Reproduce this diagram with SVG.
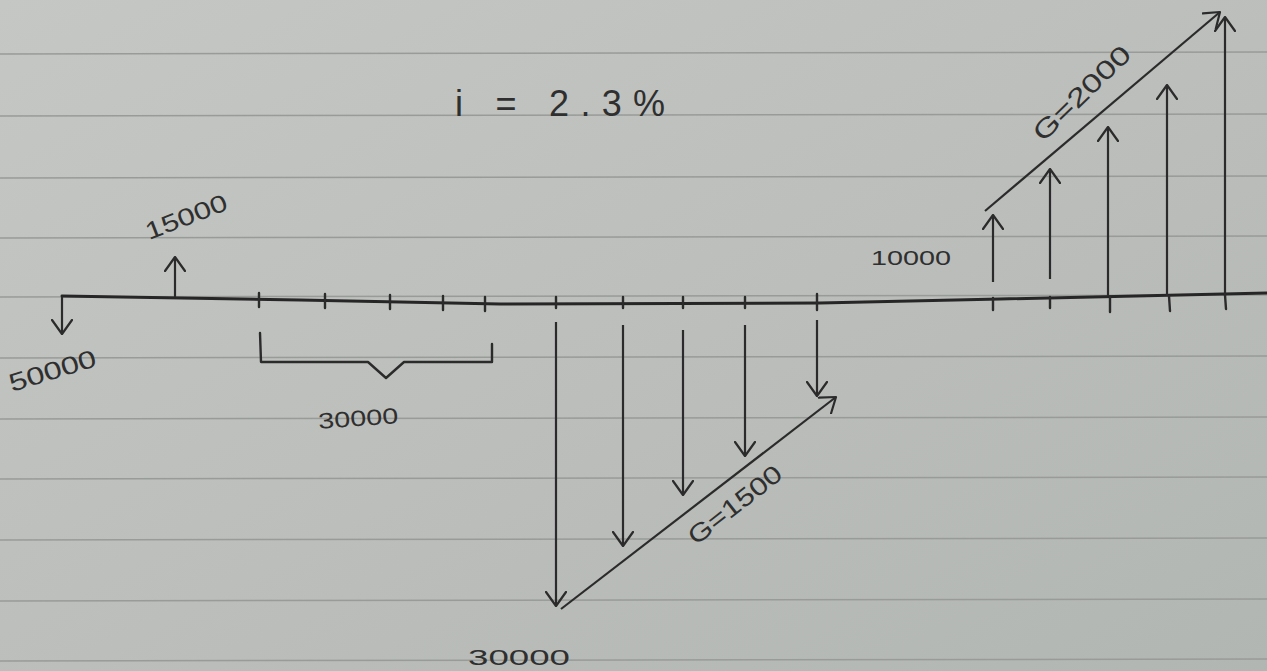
<svg xmlns="http://www.w3.org/2000/svg" width="1267" height="671" viewBox="0 0 1267 671">
<defs>
<marker id="ah" viewBox="0 0 16 22" refX="15" refY="11" markerWidth="16" markerHeight="22" markerUnits="userSpaceOnUse" orient="auto">
<path d="M1,1 L15,11 L1,21" fill="none" stroke="#2b2b2b" stroke-width="2.2" stroke-linecap="round" stroke-linejoin="round"/>
</marker>
<linearGradient id="paper" x1="0" y1="0" x2="1" y2="1">
<stop offset="0" stop-color="#c5c7c4"/>
<stop offset="1" stop-color="#b2b6b2"/>
</linearGradient>
<style>
.rule{stroke:#989b98;stroke-width:1.5;fill:none}
.ink{stroke:#2b2b2b;stroke-width:2.4;fill:none;stroke-linecap:round;stroke-linejoin:round}
.axis{stroke:#262626;stroke-width:3;fill:none;stroke-linecap:round;stroke-linejoin:round}
.arr{stroke:#2b2b2b;stroke-width:2.2;fill:none;marker-end:url(#ah)}
.lbl{font-family:"Liberation Sans",Arial,sans-serif;fill:#2f2f2f}
</style>
</defs>
<rect width="1267" height="671" fill="url(#paper)"/>
<g id="paper-lines">
<line class="rule" x1="0" y1="54" x2="1267" y2="52"/>
<line class="rule" x1="0" y1="116" x2="1267" y2="114"/>
<line class="rule" x1="0" y1="178" x2="1267" y2="176"/>
<line class="rule" x1="0" y1="238" x2="1267" y2="236"/>
<line class="rule" x1="0" y1="297" x2="1267" y2="295"/>
<line class="rule" x1="0" y1="358" x2="1267" y2="356"/>
<line class="rule" x1="0" y1="419" x2="1267" y2="417"/>
<line class="rule" x1="0" y1="479" x2="1267" y2="477"/>
<line class="rule" x1="0" y1="540" x2="1267" y2="538"/>
<line class="rule" x1="0" y1="601" x2="1267" y2="599"/>
<line class="rule" x1="0" y1="661" x2="1267" y2="659"/>
</g>
<g id="interest">
<text class="lbl" x="455" y="116" style="font-size:36px" textLength="210" lengthAdjust="spacing">i = 2.3%</text>
</g>
<g id="timeline">
<polyline class="axis" points="62,296 300,300 500,304 820,303 1000,299 1267,293"/>
<g class="ink">
<line x1="259" y1="293" x2="259" y2="307"/>
<line x1="325" y1="294" x2="325" y2="308"/>
<line x1="390" y1="295" x2="390" y2="309"/>
<line x1="443" y1="296" x2="443" y2="310"/>
<line x1="485" y1="297" x2="485" y2="311"/>
<line x1="556" y1="297" x2="556" y2="308"/>
<line x1="623" y1="297" x2="623" y2="308"/>
<line x1="683" y1="297" x2="683" y2="308"/>
<line x1="745" y1="297" x2="745" y2="308"/>
<line x1="817" y1="294" x2="817" y2="310"/>
<line x1="993" y1="298" x2="993" y2="310"/>
<line x1="1050" y1="297" x2="1050" y2="308"/>
<line x1="1110" y1="297" x2="1110" y2="312"/>
<line x1="1169" y1="296" x2="1170" y2="311"/>
<line x1="1225" y1="295" x2="1226" y2="309"/>
</g>
</g>
<g id="connectors">
<line class="arr" x1="62" y1="297" x2="62" y2="334"/>
<line class="arr" x1="175" y1="297" x2="175" y2="257"/>
<line class="arr" x1="556" y1="322" x2="556" y2="606"/>
<line class="arr" x1="623" y1="325" x2="623" y2="546"/>
<line class="arr" x1="683" y1="330" x2="683" y2="495"/>
<line class="arr" x1="745" y1="325" x2="745" y2="456"/>
<line class="arr" x1="817" y1="320" x2="817" y2="396"/>
<line class="arr" x1="561" y1="609" x2="836" y2="397"/>
<line class="arr" x1="993" y1="282" x2="993" y2="215"/>
<line class="arr" x1="1050" y1="279" x2="1050" y2="169"/>
<line class="arr" x1="1108" y1="296" x2="1108" y2="127"/>
<line class="arr" x1="1167" y1="296" x2="1167" y2="85"/>
<line class="arr" x1="1225" y1="296" x2="1225" y2="17"/>
<line class="arr" x1="985" y1="211" x2="1220" y2="12"/>
</g>
<g id="bracket-30000">
<path class="ink" d="M260,333 L261,362 L368,362 L386,378 L404,362 L492,362 L492,344"/>
<text class="lbl" x="318" y="426" style="font-size:22px" textLength="80" lengthAdjust="spacingAndGlyphs" transform="rotate(-4 358 416)">30000</text>
</g>
<g id="flow-50000">
<text class="lbl" x="12" y="392" style="font-size:25px" textLength="90" lengthAdjust="spacingAndGlyphs" transform="rotate(-17 12 392)">50000</text>
</g>
<g id="flow-15000">
<text class="lbl" x="149" y="240" style="font-size:24px" textLength="86" lengthAdjust="spacingAndGlyphs" transform="rotate(-21 149 240)">15000</text>
</g>
<g id="flow-30000">
<text class="lbl" x="468" y="665" style="font-size:22px" textLength="102" lengthAdjust="spacingAndGlyphs">30000</text>
</g>
<g id="gradient-1500">
<text class="lbl" x="696" y="546" style="font-size:25px" textLength="112" lengthAdjust="spacingAndGlyphs" transform="rotate(-38 696 546)">G=1500</text>
</g>
<g id="flow-10000">
<text class="lbl" x="871" y="265" style="font-size:21px" textLength="80" lengthAdjust="spacingAndGlyphs">10000</text>
</g>
<g id="gradient-2000">
<text class="lbl" x="1043" y="143" style="font-size:26px" textLength="125" lengthAdjust="spacingAndGlyphs" transform="rotate(-44 1043 143)">G=2000</text>
</g>
</svg>
